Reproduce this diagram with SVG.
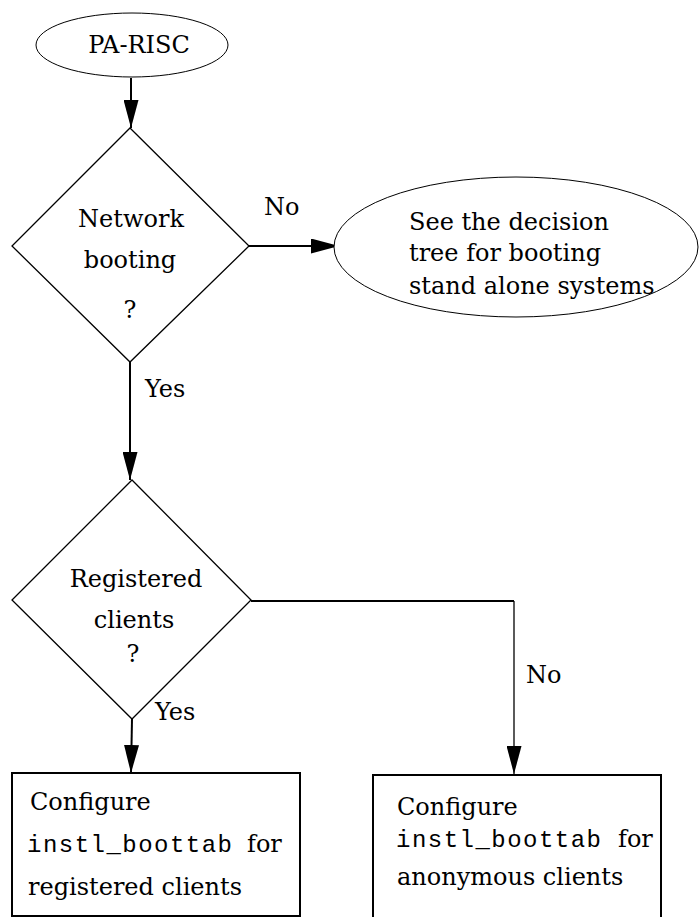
<svg xmlns="http://www.w3.org/2000/svg" width="699" height="917" viewBox="0 0 699 917">
<style>
.t{font-family:"DejaVu Serif","Liberation Serif",serif;font-size:24px;fill:#000}
.m{font-family:"Liberation Mono","DejaVu Sans Mono",monospace;font-size:24px;fill:#000}
.c{text-anchor:middle}
.shape{fill:#fff;stroke:#000}
.conn{fill:none;stroke:#000;stroke-width:2}
</style>
<defs>
<marker id="ah" markerUnits="userSpaceOnUse" markerWidth="28" markerHeight="15" refX="28" refY="7.5" orient="auto">
<path d="M0,0 L28,7.5 L0,15 z" fill="#000"/>
</marker>
</defs>
<rect width="699" height="917" fill="#fff"/>
<g id="connectors">
<path class="conn" d="M131,78 V128" marker-end="url(#ah)"/>
<path class="conn" d="M249,246 H339" marker-end="url(#ah)"/>
<path class="conn" d="M130,362 V480" marker-end="url(#ah)"/>
<path class="conn" d="M132,719 L131,773" marker-end="url(#ah)"/>
<path class="conn" d="M251,601 H514"/>
<path class="conn" style="stroke-width:1.3" d="M514,601 V774" marker-end="url(#ah)"/>
<text class="t" x="264" y="215">No</text>
<text class="t" x="145" y="397">Yes</text>
<text class="t" x="155" y="720">Yes</text>
<text class="t" x="526" y="683">No</text>
</g>
<g id="start">
<ellipse class="shape" cx="132" cy="45" rx="96" ry="32" stroke-width="1"/>
<text class="t c" x="139" y="53">PA-RISC</text>
</g>
<g id="network">
<path class="shape" d="M130,128 L249,246 L130,362 L12,246 Z" stroke-width="1.3"/>
<text class="t c" x="131" y="227">Network</text>
<text class="t c" x="130" y="268">booting</text>
<text class="t c" x="130" y="318">?</text>
</g>
<g id="standalone">
<ellipse class="shape" cx="516" cy="247" rx="182" ry="70" stroke-width="1"/>
<text class="t" x="409" y="230">See the decision</text>
<text class="t" x="409" y="261">tree for booting</text>
<text class="t" x="409" y="294">stand alone systems</text>
</g>
<g id="registered">
<path class="shape" d="M132,480 L251,600 L132,719 L12,600 Z" stroke-width="1.3"/>
<text class="t c" x="136" y="587">Registered</text>
<text class="t c" x="134" y="628">clients</text>
<text class="t c" x="133" y="662">?</text>
</g>
<g id="box-registered">
<rect class="shape" x="12" y="773" width="288" height="143" stroke-width="2"/>
<text class="t" x="30" y="810">Configure</text>
<text class="m" x="27" y="852" textLength="205" lengthAdjust="spacing">instl_boottab</text>
<text class="t" x="247" y="852">for</text>
<text class="t" x="28" y="895">registered clients</text>
</g>
<g id="box-anonymous">
<rect class="shape" x="373" y="775" width="288" height="150" stroke-width="2"/>
<text class="t" x="397" y="815">Configure</text>
<text class="m" x="396" y="847" textLength="205" lengthAdjust="spacing">instl_boottab</text>
<text class="t" x="618" y="847">for</text>
<text class="t" x="397" y="885">anonymous clients</text>
</g>
</svg>
